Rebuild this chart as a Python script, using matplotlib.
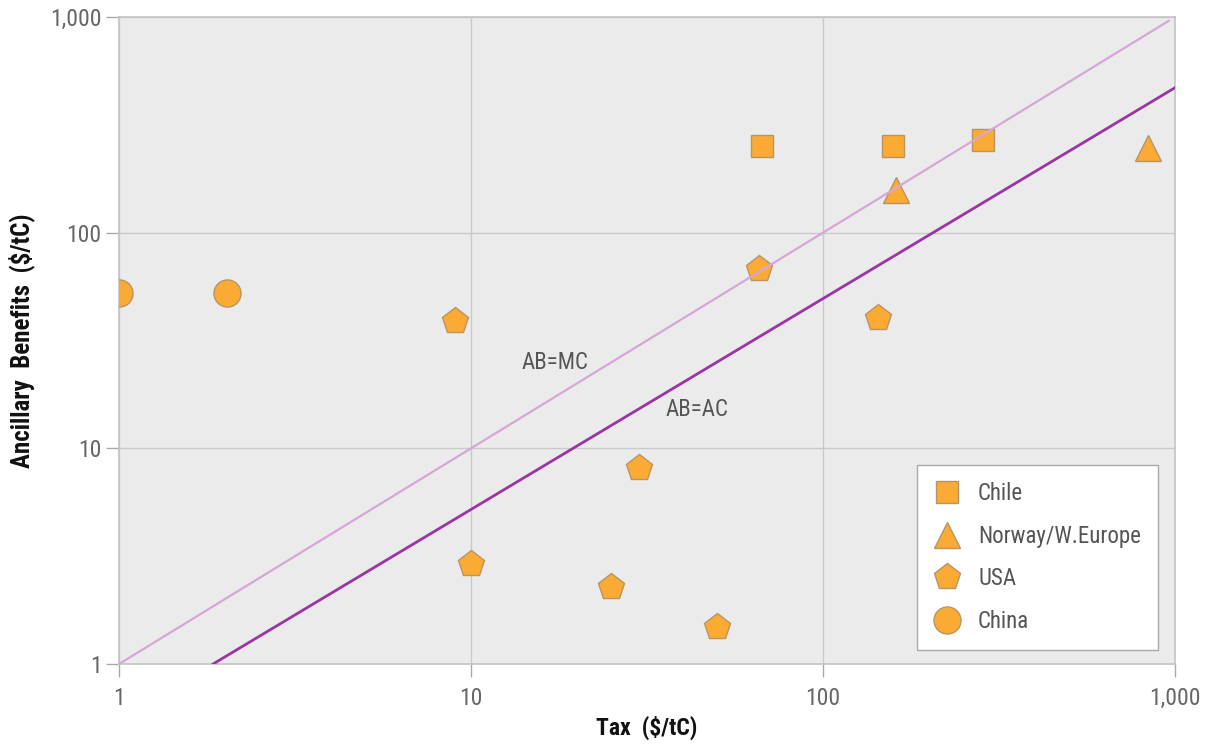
import matplotlib
matplotlib.use("Agg")
import matplotlib.pyplot as plt
from matplotlib import font_manager
import numpy as np

# Data
chile_x = [67, 158, 285]
chile_y = [252, 252, 269]
norway_x = [838, 161]
norway_y = [247, 158]
usa_x = [9.0, 66, 143, 30, 10, 25, 50]
usa_y = [39, 68, 40, 8.1, 2.9, 2.27, 1.48]
china_x = [1.0, 2.03]
china_y = [52.5, 52.5]
mc_x = [1, 960]
mc_y = [1, 960]
ac_x = [1.85, 1000]
ac_y = [1, 470]

ticks = [1, 10, 100, 1000]
tick_labels = ["1", "10", "100", "1,000"]

names = {f.name for f in font_manager.fontManager.ttflist}
cands = ['Liberation Sans Narrow', 'Roboto Condensed', 'Open Sans Condensed', 'Roboto', 'Liberation Sans']
fam = next((c for c in cands if c in names), 'DejaVu Sans')
plt.rcParams['font.family'] = [fam, 'DejaVu Sans']

fig = plt.figure(figsize=(12.09, 7.44), dpi=100)
ax = fig.add_axes([119/1209, 1-664/744, (1175-119)/1209, (664-17)/744])
ax.set_facecolor('#ebebeb')
ax.set_xscale('log')
ax.set_yscale('log')
ax.set_xlim(1, 1000)
ax.set_ylim(1, 1000)

orange = '#fbab34'
edge = '#b89464'
kw = dict(linestyle='none', color=orange, markeredgecolor=edge, markeredgewidth=1.0, zorder=3)
ax.plot(chile_x, chile_y, marker='s', markersize=16.5, label='Chile', **kw)
ax.plot(norway_x, norway_y, marker='^', markersize=18.5, label='Norway/W.Europe', **kw)
ax.plot(usa_x, usa_y, marker='p', markersize=19.5, label='USA', **kw)
ax.plot(china_x, china_y, marker='o', markersize=19.5, label='China', **kw)

ax.plot(mc_x, mc_y, color='#d6a6d8', lw=1.6, zorder=4)
ax.plot(ac_x, ac_y, color='#9b35a3', lw=2.0, zorder=4)

ax.text(17.3, 25, 'AB=MC', fontsize=16.5, color='#555555', ha='center', va='center')
ax.text(43.9, 15.2, 'AB=AC', fontsize=16.5, color='#555555', ha='center', va='center')

ax.set_xticks(ticks)
ax.set_xticklabels(tick_labels)
ax.set_yticks(ticks)
ax.set_yticklabels(tick_labels)
ax.minorticks_off()
ax.grid(True, which='major', color='#c9c9c9', lw=1.0, zorder=0)
ax.set_axisbelow(True)
ax.tick_params(axis='both', colors='#aaaaaa', labelcolor='#666666', labelsize=17,
               length=9.5, width=1.0)
ax.tick_params(axis='x', pad=7)
ax.tick_params(axis='y', pad=3)
for s in ['left', 'bottom', 'right', 'top']:
    ax.spines[s].set_color('#c4c4c4')
    ax.spines[s].set_linewidth(1.2)

ax.set_xlabel('Tax  ($/tC)', fontsize=17, fontweight='bold', color='#111111')
ax.xaxis.set_label_coords(0.5, -0.080)
ax.set_ylabel('Ancillary  Benefits  ($/tC)', fontsize=18, fontweight='bold', color='#111111')
ax.yaxis.set_label_coords(-0.080, 0.5)

leg = ax.legend(loc='lower right', bbox_to_anchor=(0.984, 0.0216), borderaxespad=0,
                frameon=True, fancybox=False,
                fontsize=16.5, labelcolor='#555555', borderpad=0.75, labelspacing=0.85,
                handlelength=1.05, handletextpad=0.85, markerscale=1.0, framealpha=1.0)
leg.get_frame().set_edgecolor('#aaaaaa')
leg.get_frame().set_facecolor('white')
leg.get_frame().set_linewidth(1.0)

fig.savefig('out.png', dpi=100)
